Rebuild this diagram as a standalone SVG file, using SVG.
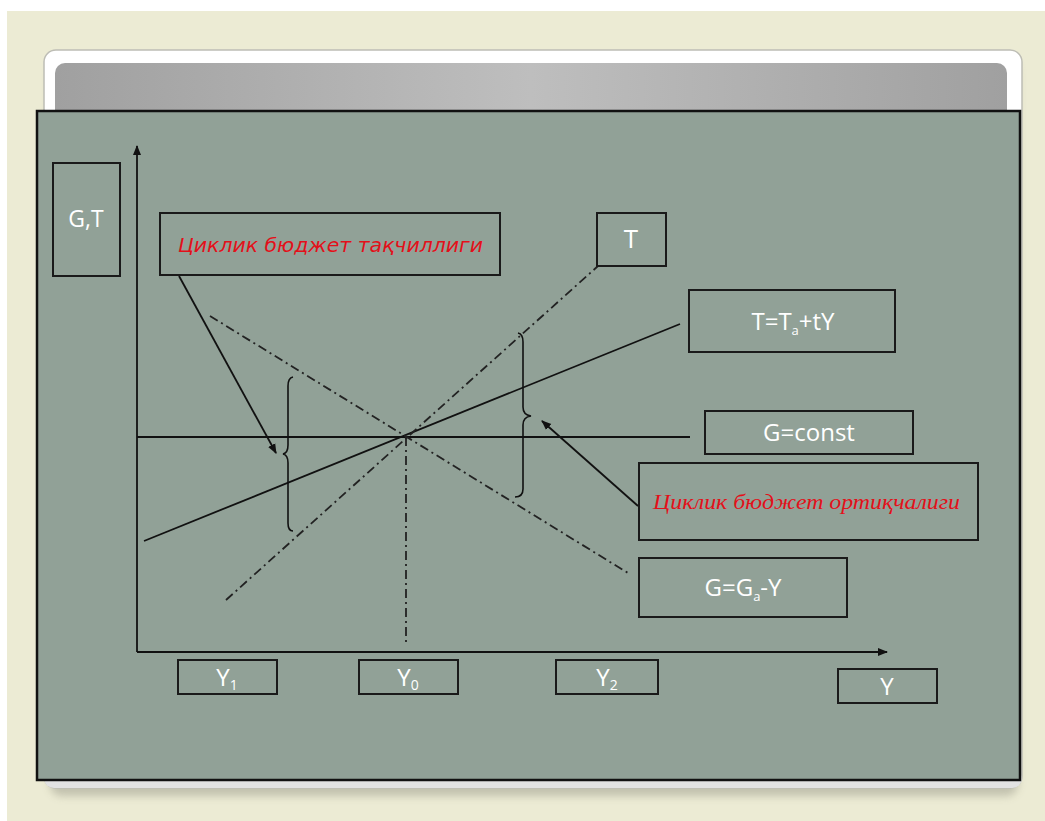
<svg xmlns="http://www.w3.org/2000/svg" width="1045" height="821" viewBox="0 0 1045 821">
<style>
.box{fill:none;stroke:#1a1a1a;stroke-width:2}
.lbl{font-family:"Open Sans","Liberation Sans",sans-serif;fill:#ffffff;text-anchor:middle}
.red1{font-family:"DejaVu Sans Condensed","DejaVu Sans",sans-serif;font-style:italic;fill:#e3101a;font-size:19px}
.red2{font-family:"Liberation Serif",serif;font-style:italic;fill:#e3101a;font-size:20px}
.ln{stroke:#111;stroke-width:1.8;fill:none}
.dd{stroke:#222;stroke-width:1.8;fill:none;stroke-dasharray:9 4 2 4}
.br{stroke:#111;stroke-width:1.6;fill:none}
</style>
<defs>
<linearGradient id="band" x1="0" y1="0" x2="1" y2="0">
<stop offset="0" stop-color="#a0a0a0"/>
<stop offset="0.5" stop-color="#bebebe"/>
<stop offset="1" stop-color="#a0a0a0"/>
</linearGradient>
<filter id="sh" x="-5%" y="-5%" width="110%" height="120%">
<feGaussianBlur stdDeviation="4"/>
</filter>
<marker id="ah" viewBox="0 0 10 10" refX="9" refY="5" markerWidth="10" markerHeight="10" markerUnits="userSpaceOnUse" orient="auto">
<path d="M0,1 L10,5 L0,9 z" fill="#111"/>
</marker>
</defs>
<rect x="0" y="0" width="1045" height="821" fill="#ffffff"/>
<rect x="7" y="11" width="1038" height="810" fill="#ecebd4"/>
<g id="slide">
<rect x="50" y="60" width="968" height="736" rx="12" fill="#8f8f80" opacity="0.45" filter="url(#sh)"/>
<rect x="44" y="50" width="978" height="738" rx="12" fill="#ffffff" stroke="#bdbdb5" stroke-width="1.5"/>
<rect x="44" y="770" width="978" height="18" rx="10" fill="#e2e2e2"/>
<rect x="55" y="63" width="952" height="60" rx="10" fill="url(#band)"/>
<rect x="37" y="111" width="983" height="669" fill="#91a197" stroke="#111" stroke-width="2.5"/>
</g>
<g id="connectors">
<line class="ln" x1="137" y1="652" x2="137" y2="146" marker-end="url(#ah)"/>
<line class="ln" x1="137" y1="652" x2="887" y2="652" marker-end="url(#ah)"/>
<line class="ln" x1="137" y1="437" x2="690" y2="437"/>
<line class="ln" x1="144" y1="541" x2="680" y2="324"/>
<line class="dd" x1="226" y1="600" x2="598" y2="266"/>
<line class="dd" x1="210" y1="316" x2="628" y2="573"/>
<line class="dd" x1="406" y1="437" x2="406" y2="645"/>
<path class="br" d="M293 377 Q288 378 288 386 L288 445 Q288 453 283 454 Q288 455 288 463 L288 523 Q288 531 293 531"/>
<path class="br" d="M518 333 Q523 334 523 342 L523 407 Q523 415 531 416 Q523 417 523 425 L523 489 Q523 497 515 497"/>
<line class="ln" x1="179" y1="276" x2="276" y2="453" marker-end="url(#ah)"/>
<line class="ln" x1="638" y1="506" x2="542" y2="421" marker-end="url(#ah)"/>
</g>
<g id="n-gt">
<rect class="box" x="53" y="163" width="67" height="113"/>
<text class="lbl" x="86" y="227" font-size="23">G,T</text>
</g>
<g id="n-deficit">
<rect class="box" x="160" y="213" width="340" height="62"/>
<text class="red1" x="178" y="252" textLength="305" lengthAdjust="spacingAndGlyphs">Циклик бюджет тақчиллиги</text>
</g>
<g id="n-t">
<rect class="box" x="597" y="213" width="69" height="53"/>
<text class="lbl" x="631" y="248" font-size="26">T</text>
</g>
<g id="n-tline">
<rect class="box" x="689" y="290" width="206" height="62"/>
<text class="lbl" x="793" y="330" font-size="24">T=T<tspan font-size="13" dy="5">a</tspan><tspan dy="-5">+tY</tspan></text>
</g>
<g id="n-gconst">
<rect class="box" x="705" y="411" width="208" height="43"/>
<text class="lbl" x="809" y="441" font-size="24">G=const</text>
</g>
<g id="n-surplus">
<rect class="box" x="639" y="463" width="339" height="77"/>
<text class="red2" x="653" y="509" textLength="307" lengthAdjust="spacingAndGlyphs">Циклик бюджет ортиқчалиги</text>
</g>
<g id="n-gline">
<rect class="box" x="639" y="558" width="208" height="59"/>
<text class="lbl" x="743" y="596" font-size="24">G=G<tspan font-size="13" dy="5">a</tspan><tspan dy="-5">-Y</tspan></text>
</g>
<g id="n-y1">
<rect class="box" x="178" y="660" width="99" height="34"/>
<text class="lbl" x="227" y="686" font-size="24">Y<tspan font-size="14" dy="4">1</tspan></text>
</g>
<g id="n-y0">
<rect class="box" x="359" y="660" width="99" height="34"/>
<text class="lbl" x="408" y="686" font-size="24">Y<tspan font-size="14" dy="4">0</tspan></text>
</g>
<g id="n-y2">
<rect class="box" x="556" y="660" width="102" height="34"/>
<text class="lbl" x="607" y="686" font-size="24">Y<tspan font-size="14" dy="4">2</tspan></text>
</g>
<g id="n-y">
<rect class="box" x="838" y="669" width="99" height="34"/>
<text class="lbl" x="887" y="695" font-size="24">Y</text>
</g>
</svg>
